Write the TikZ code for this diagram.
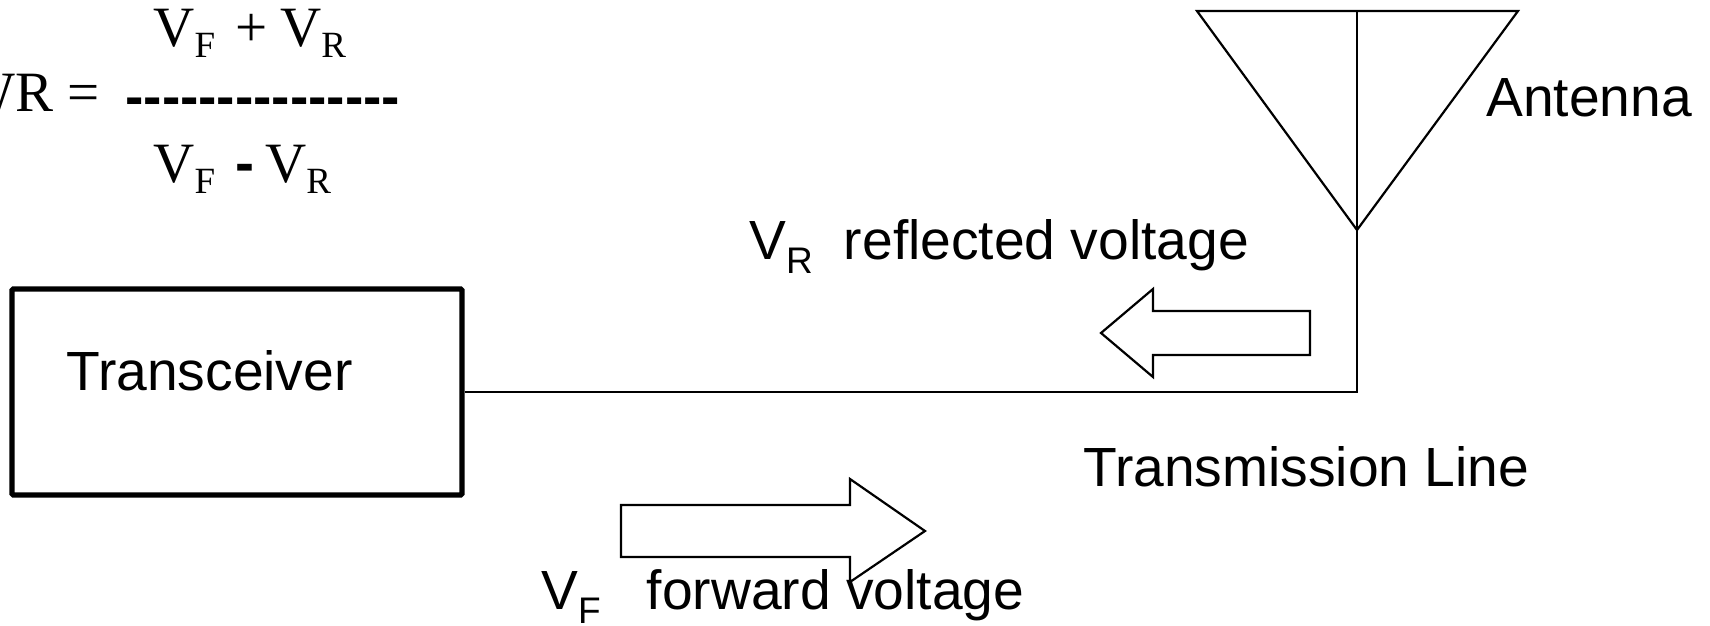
\documentclass[tikz,border=0pt]{standalone}
\usepackage{fontspec}
\setmainfont{Liberation Sans}
\newfontfamily\formulafont{Liberation Serif}
\newfontfamily\dashfont{Liberation Sans}
\newcommand{\subV}[1]{V\raisebox{-5.5pt}{\fontsize{18.5}{18}\selectfont #1}}
\newcommand{\subS}[1]{V\raisebox{-7pt}{\fontsize{18.5}{18}\selectfont #1}}

\begin{document}
\begin{tikzpicture}[
   x=0.5pt, y=-0.5pt,
   label/.style={anchor=base west, inner sep=0pt, font=\fontsize{27.6}{32}\selectfont},
   formula/.style={anchor=base west, inner sep=0pt, font=\formulafont\fontsize{28.5}{32}\selectfont},
   dashes/.style={anchor=base west, inner sep=0pt, font=\dashfont\bfseries\fontsize{27.5}{32}\selectfont},
   boxnode/.style={draw, line width=2.6pt, rounded corners=0.6pt, inner sep=0pt,
      minimum width=225pt, minimum height=103pt},
   wire/.style={line width=1.1pt},
   blockarrow/.style={line width=1.1pt, miter limit=10}
]
\useasboundingbox (0,0) rectangle (1710,626);

\node[boxnode] (TX) at (237,392) {};
\node[label] (TXtext) at (66,390) {Transceiver};

\coordinate (bend) at (1357,392);
\coordinate (tip) at (1357,230);
\coordinate (top) at (1357,11);
\coordinate (topL) at (1197,11);
\coordinate (topR) at (1518,11);

\draw[wire] (TX.east) -- (bend) -- (tip) -- (top);
\draw[wire] (tip) -- (topL) -- (topR) -- cycle;

\node[label] (ant) at (1486,117) {Antenna};
\node[label] (line) at (1083,486) {Transmission Line};

% reflected wave
\draw[blockarrow] (1101,333) -- (1153,289) -- (1153,311) -- (1310,311)
   -- (1310,355) -- (1153,355) -- (1153,377) -- cycle;
\node[label] (VR) at (749,259) {\subS{R}\hspace{15.5pt}reflected voltage};

% forward wave
\draw[blockarrow] (621,505) -- (850,505) -- (850,479) -- (925,531)
   -- (850,582) -- (850,557) -- (621,557) -- cycle;
\node[label] (VF) at (541,609) {\subS{F}\hspace{23pt}forward voltage};

% formula
\node[formula, anchor=base east] (vswr) at (100,112) {VSWR =};
\node[formula] (num) at (153,47) {\subV{F}\hspace{10pt}+\hspace{6.5pt}\subV{R}};
\node[dashes] (bar) at (125,116) {---------------};
\node[formula] (den) at (153,183) {\subV{F}\hspace{10pt}{\dashfont\bfseries-}\hspace{5.5pt}\subV{R}};
\end{tikzpicture}
\end{document}
